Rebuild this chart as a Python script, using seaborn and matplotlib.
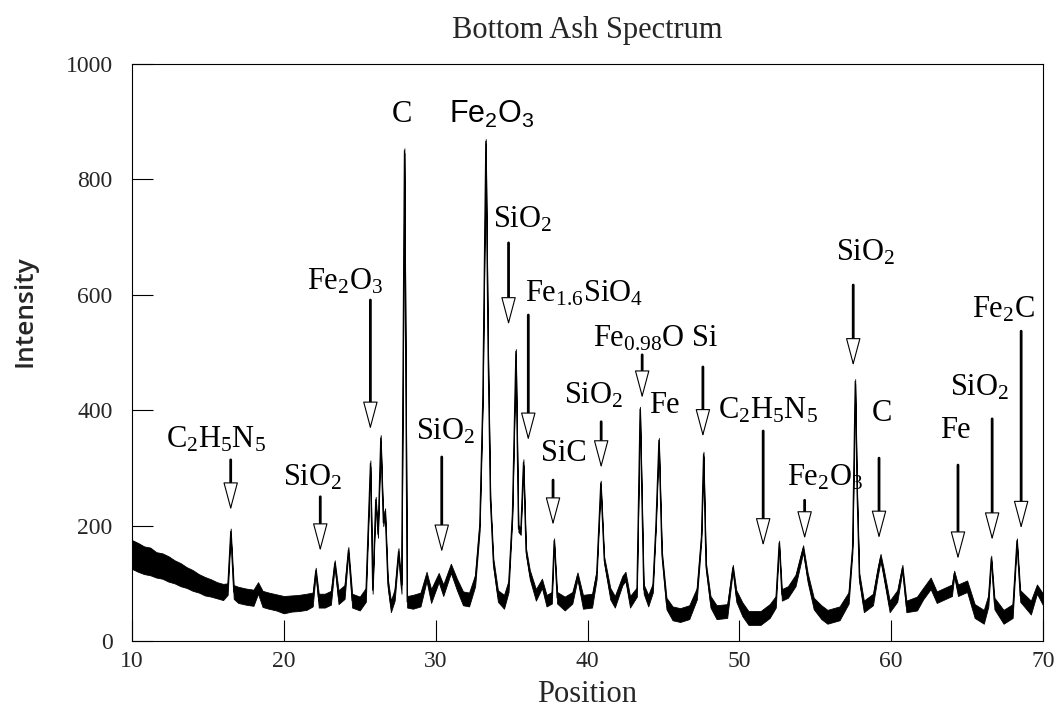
import matplotlib
matplotlib.use("Agg")
import matplotlib.pyplot as plt
import seaborn as sns
import numpy as np
import pandas as pd

# ---- data ----
position = [10.0, 10.4, 10.8, 11.2, 11.6, 12.0, 12.4, 12.8, 13.2, 13.6, 14.0, 14.4, 14.8, 15.2, 15.6, 16.0,
            16.3, 16.5, 16.7, 17.0, 17.5, 18.0, 18.3, 18.6, 19.0, 19.5, 20.0, 20.5, 21.0, 21.5, 21.9, 22.1,
            22.3, 22.7, 23.1, 23.35, 23.6, 24.0, 24.25, 24.5, 25.0, 25.4, 25.7, 25.85, 26.05, 26.2, 26.38,
            26.55, 26.67, 26.85, 27.05, 27.3, 27.55, 27.75, 27.94, 28.12, 28.5, 29.0, 29.4, 29.7, 30.2, 30.5,
            31.0, 31.4, 31.8, 32.2, 32.6, 32.9, 33.1, 33.3, 33.45, 33.6, 33.8, 34.1, 34.5, 34.8, 35.05, 35.28,
            35.45, 35.6, 35.78, 35.95, 36.2, 36.6, 37.0, 37.3, 37.65, 37.8, 38.0, 38.5, 39.0, 39.34, 39.7,
            40.3, 40.6, 40.87, 41.1, 41.5, 41.8, 42.3, 42.5, 42.8, 43.25, 43.46, 43.7, 44.0, 44.3, 44.5, 44.7,
            44.9, 45.2, 45.6, 46.1, 46.7, 47.2, 47.5, 47.64, 47.8, 48.1, 48.5, 49.2, 49.57, 49.8, 50.2, 50.6,
            51.4, 52.0, 52.4, 52.62, 52.8, 53.2, 53.7, 54.0, 54.2, 54.5, 54.9, 55.4, 55.8, 56.6, 57.2, 57.45,
            57.63, 57.75, 57.9, 58.2, 58.8, 59.1, 59.3, 59.5, 59.9, 60.4, 60.74, 61.0, 61.7, 62.1, 62.6, 63.0,
            63.5, 64.0, 64.15, 64.4, 65.0, 65.5, 66.1, 66.4, 66.59, 66.8, 67.4, 68.0, 68.28, 68.5, 69.2, 69.6,
            70.0]
intensity = [150, 145, 140, 138, 132, 130, 125, 120, 115, 110, 105, 100, 95, 92, 88, 85,
             90, 190, 85, 80, 77, 75, 92, 73, 70, 67, 63, 65, 66, 68, 72, 122,
             70, 70, 75, 135, 76, 85, 158, 70, 65, 80, 308, 88, 245, 185, 352,
             205, 225, 100, 60, 80, 155, 90, 850, 68, 68, 72, 112, 78, 110, 88,
             126, 98, 74, 72, 105, 200, 420, 866, 500, 245, 135, 78, 68, 95, 220, 502,
             195, 190, 310, 155, 115, 80, 100, 70, 75, 174, 75, 65, 75, 113, 68,
             70, 115, 274, 140, 82, 68, 105, 112, 68, 85, 402, 90, 70, 92, 200, 348,
             150, 65, 48, 45, 50, 82, 180, 324, 130, 68, 50, 52, 127, 78, 55, 40,
             40, 52, 68, 170, 80, 85, 105, 138, 160, 110, 65, 50, 42, 48, 75, 160,
             450, 260, 110, 60, 72, 118, 145, 118, 60, 78, 127, 60, 65, 82, 100, 76,
             82, 88, 117, 88, 95, 52, 42, 70, 144, 65, 42, 52, 174, 78, 58, 90,
             72]
noise = [25, 25, 24, 24, 22, 22, 22, 20, 20, 18, 18, 16, 16, 15, 14, 14,
         10, 5, 12, 14, 14, 14, 10, 14, 14, 14, 15, 14, 14, 14, 12, 5,
         12, 12, 12, 5, 12, 12, 5, 12, 12, 12, 5, 6, 5, 6, 5,
         6, 5, 8, 10, 10, 6, 8, 4, 10, 12, 12, 8, 12, 8, 10,
         8, 10, 12, 12, 10, 8, 6, 4, 6, 6, 8, 10, 12, 10, 6, 4,
         6, 6, 5, 6, 8, 10, 8, 10, 10, 4, 10, 12, 10, 6, 12,
         12, 8, 4, 6, 10, 10, 8, 8, 10, 8, 4, 8, 10, 8, 6, 4,
         6, 10, 12, 12, 12, 10, 6, 4, 6, 10, 12, 12, 5, 10, 12, 12,
         12, 12, 10, 4, 10, 10, 10, 8, 6, 8, 10, 12, 12, 12, 10, 6,
         4, 5, 8, 10, 10, 8, 6, 8, 10, 10, 5, 10, 12, 10, 10, 10,
         10, 10, 5, 10, 10, 12, 12, 10, 4, 10, 12, 12, 4, 10, 12, 8,
         10]

# annotations: label, text x, text baseline y, arrow x, arrow tail y, arrow tip y (None = no arrow)
labels      = [r"C$_2$H$_5$N$_5$", r"SiO$_2$", r"Fe$_2$O$_3$", "C", r"$\mathsf{Fe_2O_3}$", r"SiO$_2$",
               r"Fe$_{1.6}$SiO$_4$", r"Fe$_{0.98}$O", "Si", r"SiO$_2$", "Fe", "SiC", r"SiO$_2$",
               r"C$_2$H$_5$N$_5$", r"Fe$_2$O$_3$", r"SiO$_2$", "C", "Fe", r"SiO$_2$", r"Fe$_2$C"]
label_x     = [15.52, 21.92, 24.03, 27.79, 33.72, 35.76, 39.78, 43.4, 47.75, 40.43, 45.05, 38.46, 30.69,
               51.9, 55.65, 58.29, 59.41, 64.22, 65.86, 67.38]
label_y     = [335, 269, 610, 900, 898, 716, 589, 511, 511, 411, 395, 312, 350,
               385, 269, 660, 381, 352, 425, 560]
arrow_x     = [16.5, 22.4, 25.7, None, None, 34.8, 36.1, 43.6, 47.6, 40.9, None, 37.73, 30.4,
               51.57, 54.3, 57.5, 59.2, 64.4, 66.65, 68.56]
arrow_tail  = [314, 250, 591, None, None, 690, 565, 496, 475, 380, None, 279, 319,
               364, 244, 617, 317, 305, 385, 537]
arrow_tip   = [227, 156, 367, None, None, 548, 348, 421, 354, 300, None, 201, 154,
               165, 177, 477, 178, 142, 175, 195]

x_ticks = [10, 20, 30, 40, 50, 60, 70]
y_ticks = [0, 200, 400, 600, 800, 1000]

# ---- plotting ----
sns.set_theme(style="white")
serif = ["Liberation Serif", "DejaVu Serif"]
plt.rcParams["font.family"] = serif
plt.rcParams["mathtext.fontset"] = "custom"
plt.rcParams["mathtext.rm"] = "Liberation Serif"
plt.rcParams["mathtext.it"] = "Liberation Serif:italic"
plt.rcParams["mathtext.sf"] = "Liberation Sans"

df = pd.DataFrame({"Position": position, "Intensity": intensity, "noise": noise})

fig = plt.figure(figsize=(10.56, 7.16), dpi=100)
ax = fig.add_axes([0.125, 0.1047, 0.8627, 0.8059])

lo = df["Intensity"] - df["noise"]
hi = df["Intensity"] + df["noise"]
ax.fill_between(df["Position"], lo, hi, color="black", lw=0.6, edgecolor="black")
sns.lineplot(data=df, x="Position", y="Intensity", ax=ax, color="black", lw=0.8, estimator=None)

ax.set_xlim(10, 70)
ax.set_ylim(0, 1000)
ax.set_xticks(x_ticks)
ax.set_yticks(y_ticks)
ax.tick_params(direction="in", length=15, width=0.8, color="black", labelsize=17,
               bottom=True, left=True, top=False, right=False)
ax.tick_params(axis="x", pad=7)
ax.tick_params(axis="y", pad=14)
for lab in ax.get_xticklabels() + ax.get_yticklabels():
    lab.set_family(serif)
for sp in ax.spines.values():
    sp.set_color("black")
    sp.set_linewidth(0.8)

ax.set_xlabel("Position", fontsize=22, family=serif)
ax.xaxis.set_label_coords(0.5, -0.068)
ax.set_ylabel("Intensity", fontsize=19, family=["Open Sans", "Noto Sans", "DejaVu Sans"],
              fontweight="semibold")
ax.yaxis.set_label_coords(-0.104, 0.572)
ax.set_title("Bottom Ash Spectrum", fontsize=22, family=serif, pad=19)

head_len = 42  # data units
for lab, tx, ty, axx, at, ap in zip(labels, label_x, label_y, arrow_x, arrow_tail, arrow_tip):
    ax.text(tx, ty, lab, fontsize=22, ha="center", va="baseline", family=serif, color="black")
    if axx is None:
        continue
    base = ap + head_len
    ax.annotate("", xy=(axx, base), xytext=(axx, at),
                arrowprops=dict(arrowstyle="-", lw=2.0, color="black", shrinkA=0, shrinkB=0))
    ax.annotate("", xy=(axx, ap), xytext=(axx, base),
                arrowprops=dict(arrowstyle="-|>,head_length=1.2,head_width=0.32", lw=0.8,
                                fc="white", ec="black", shrinkA=0, shrinkB=0, mutation_scale=15))

fig.savefig("out.png", dpi=100)
